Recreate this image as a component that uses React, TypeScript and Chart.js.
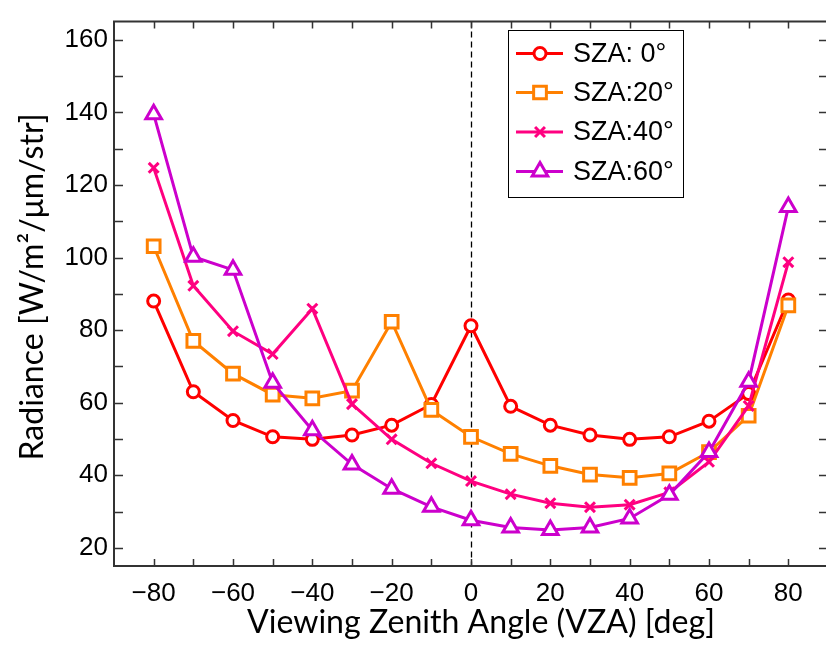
import React, { useEffect, useRef } from 'react';
import { Chart, registerables } from 'chart.js';
import { drawPoint } from 'chart.js/helpers';

Chart.register(...registerables);

// ---- data ----
const vza = [-80, -70, -60, -50, -40, -30, -20, -10, 0, 10, 20, 30, 40, 50, 60, 70, 80];
const sza0 = [88.0, 63.0, 55.1, 50.6, 49.9, 51.1, 53.8, 59.5, 81.2, 59.0, 53.8, 51.1, 49.9, 50.6, 54.9, 62.5, 88.3];
const sza20 = [103.1, 77.0, 68.0, 62.2, 61.2, 63.3, 82.3, 58.0, 50.6, 45.9, 42.6, 40.2, 39.3, 40.5, 46.4, 56.4, 86.8];
const sza40 = [124.7, 92.2, 79.7, 73.4, 85.9, 59.6, 49.9, 43.3, 38.4, 34.8, 32.3, 31.2, 31.9, 35.3, 43.7, 59.1, 98.7];
const sza60 = [139.5, 100.2, 96.6, 65.5, 52.4, 43.0, 36.3, 31.3, 27.6, 25.6, 24.9, 25.6, 28.1, 34.6, 46.4, 65.8, 113.9];
const seriesLabels = ['SZA: 0°', 'SZA:20°', 'SZA:40°', 'SZA:60°'];
const xTickLabels = [-80, -60, -40, -20, 0, 20, 40, 60, 80];
const yTickLabels = [20, 40, 60, 80, 100, 120, 140, 160];
const xMinorTicks = [-80, -70, -60, -50, -40, -30, -20, -10, 0, 10, 20, 30, 40, 50, 60, 70, 80];
const yMinorTicks = [20, 30, 40, 50, 60, 70, 80, 90, 100, 110, 120, 130, 140, 150, 160];
const xTitle = 'Viewing Zenith Angle (VZA) [deg]';
const yTitle = 'Radiance [W/m\u00B2/\u03BCm/str]';

const W = 840;
const H = 646;

const colors = ['#ff0000', '#ff8000', '#ff0080', '#cc00cc'];
const styles = ['circle', 'rect', 'crossRot', 'triangle'];
const radii = [6, 9, 7, 9];

const fmtX = (v: number) => (v < 0 ? '\u2212' + Math.abs(v) : String(v));

const framePlugin = {
  id: 'frame',
  beforeDatasetsDraw(chart: any) {
    const { ctx, chartArea: a, scales } = chart;
    const px = Math.round(scales.x.getPixelForValue(0)) + 0.5;
    ctx.save();
    ctx.strokeStyle = '#000';
    ctx.lineWidth = 1.3;
    ctx.setLineDash([6, 4]);
    ctx.beginPath();
    ctx.moveTo(px, a.top);
    ctx.lineTo(px, a.bottom);
    ctx.stroke();
    ctx.restore();
  },
  afterDraw(chart: any) {
    const { ctx, chartArea: a, scales } = chart;
    const x = scales.x;
    const y = scales.y;
    ctx.save();
    // frame
    ctx.strokeStyle = '#333';
    ctx.lineWidth = 2;
    ctx.beginPath();
    ctx.rect(a.left, a.top, a.right - a.left, a.bottom - a.top);
    ctx.stroke();
    // ticks
    ctx.lineWidth = 1.5;
    ctx.beginPath();
    xMinorTicks.forEach((v) => {
      const p = Math.round(x.getPixelForValue(v)) + 0.5;
      ctx.moveTo(p, a.bottom);
      ctx.lineTo(p, a.bottom - 7);
      ctx.moveTo(p, a.top);
      ctx.lineTo(p, a.top + 7);
    });
    yMinorTicks.forEach((v) => {
      const p = Math.round(y.getPixelForValue(v)) + 0.5;
      ctx.moveTo(a.left, p);
      ctx.lineTo(a.left + 9, p);
      ctx.moveTo(a.right, p);
      ctx.lineTo(a.right - 9, p);
    });
    ctx.stroke();

    // axis titles
    ctx.fillStyle = '#000';
    ctx.font = '28px Lato';
    const w0 = ctx.measureText(xTitle).width;
    const fs = (28 * 468) / w0;
    ctx.font = `${fs}px Lato`;
    ctx.textAlign = 'center';
    ctx.textBaseline = 'alphabetic';
    ctx.fillText(xTitle, 481, 633);
    ctx.save();
    ctx.translate(43, 287);
    ctx.rotate(-Math.PI / 2);
    ctx.fillText(yTitle, 0, 0);
    ctx.restore();

    // legend
    const bx = 508, by = 30, bw = 175, bh = 167;
    ctx.fillStyle = '#fff';
    ctx.fillRect(bx, by, bw, bh);
    ctx.strokeStyle = '#000';
    ctx.lineWidth = 1;
    ctx.strokeRect(bx + 0.5, by + 0.5, bw, bh);
    const rows = [53.5, 92.5, 132, 171.5];
    chart.data.datasets.forEach((ds: any, i: number) => {
      const ry = rows[i];
      ctx.strokeStyle = ds.borderColor;
      ctx.lineWidth = 3;
      ctx.beginPath();
      ctx.moveTo(516, ry);
      ctx.lineTo(563, ry);
      ctx.stroke();
      ctx.fillStyle = '#fff';
      ctx.strokeStyle = ds.borderColor;
      ctx.lineWidth = 3;
      drawPoint(ctx, { pointStyle: ds.pointStyle, radius: ds.pointRadius, rotation: 0, borderWidth: 3 } as any, 540, ry);
      ctx.fillStyle = '#000';
      ctx.font = '27px "Liberation Sans"';
      ctx.textAlign = 'left';
      ctx.textBaseline = 'middle';
      ctx.fillText(ds.label, 573, ry + 1);
    });
    ctx.restore();
  },
};

export default function App() {
  const ref = useRef<HTMLCanvasElement>(null);
  useEffect(() => {
    if (!ref.current) return;
    const seriesValues = [sza0, sza20, sza40, sza60];
    const chart = new Chart(ref.current, {
      type: 'line',
      data: {
        labels: vza,
        datasets: seriesValues.map((vals, i) => ({
          label: seriesLabels[i],
          data: vza.map((v, j) => ({ x: v, y: vals[j] })),
          borderColor: colors[i],
          backgroundColor: '#ffffff',
          pointBackgroundColor: '#ffffff',
          pointBorderColor: colors[i],
          pointBorderWidth: 3,
          pointStyle: styles[i],
          pointRadius: radii[i],
          borderWidth: 3,
          tension: 0,
          fill: false,
          order: 3 - i,
        })),
      },
      options: {
        animation: false,
        responsive: false,
        devicePixelRatio: 1,
        layout: { padding: { top: 6, right: 9, left: 0, bottom: 0 } },
        plugins: { legend: { display: false }, tooltip: { enabled: false } },
        scales: {
          x: {
            type: 'linear',
            min: -90,
            max: 90,
            grid: { display: false, drawTicks: false },
            border: { display: false },
            afterBuildTicks: (s: any) => {
              s.ticks = xTickLabels.map((v) => ({ value: v }));
            },
            afterFit: (s: any) => {
              s.height = 80;
            },
            ticks: {
              autoSkip: false,
              maxRotation: 0,
              padding: 12,
              color: '#000',
              font: { family: '"Liberation Sans"', size: 26 },
              callback: (v: any) => fmtX(Number(v)),
            },
          },
          y: {
            type: 'linear',
            min: 15,
            max: 165,
            grid: { display: false, drawTicks: false },
            border: { display: false },
            afterBuildTicks: (s: any) => {
              s.ticks = yTickLabels.map((v) => ({ value: v }));
            },
            afterFit: (s: any) => {
              s.width = 114;
            },
            ticks: {
              autoSkip: false,
              padding: 6,
              color: '#000',
              font: { family: '"Liberation Sans"', size: 26 },
              callback: (v: any) => String(v),
            },
          },
        },
      },
      plugins: [framePlugin],
    });
    return () => chart.destroy();
  }, []);
  return (
    <div style={{ position: 'fixed', left: 0, top: 0, width: 826, height: 646, overflow: 'hidden', background: '#fff' }}>
      <canvas ref={ref} width={W} height={H} style={{ display: 'block', width: W, height: H }} />
    </div>
  );
}
